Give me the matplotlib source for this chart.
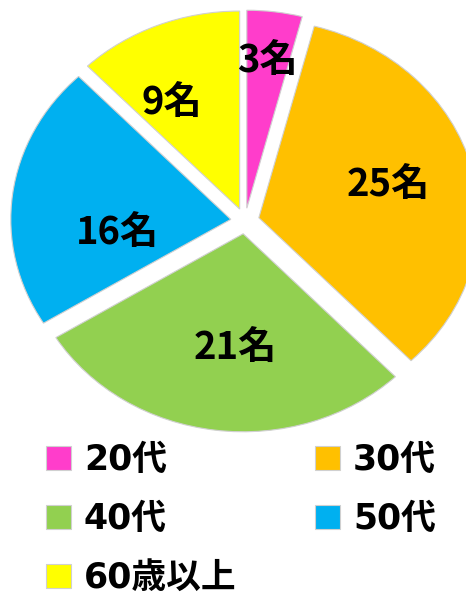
import matplotlib
matplotlib.use("Agg")
import matplotlib.pyplot as plt
import numpy as np

categories = ["20代", "30代", "40代", "50代", "60歳以上"]
values = [3, 25, 21, 16, 9]
unit = "名"
colors = ["#FF3DCB", "#FFC000", "#92D050", "#00B0F0", "#FFFF00"]

plt.rcParams['font.family'] = ['DejaVu Sans', 'Noto Sans CJK JP']

W, H = 466, 596
fig = plt.figure(figsize=(W / 100, H / 100), dpi=100)
ax = fig.add_axes([0, 0, 1, 1])

explode = 0.065
wedges, texts, autotexts = ax.pie(
    values, colors=colors, startangle=90, counterclock=False,
    explode=[explode] * len(values),
    autopct=lambda p: "", pctdistance=0.6,
    wedgeprops=dict(edgecolor="#d0d0d0", linewidth=0.8),
)
ax.set_aspect('auto')
cx, cy, rx, ry = 245, 221, 220, 198
ax.set_xlim(-cx / rx, (W - cx) / rx)
ax.set_ylim(-(H - cy) / ry, cy / ry)
ax.axis('off')

dists = [0.745, 0.61, 0.578, 0.52, 0.618]
shifts = [0, 1, 3.6, 15, 8]
for w, v, t, d, s in zip(wedges, values, autotexts, dists, shifts):
    m = np.deg2rad((w.theta1 + w.theta2) / 2 + s)
    x0, y0 = w.center
    t.set_position((x0 + d * np.cos(m), y0 + d * np.sin(m)))
    t.set_text(f"{v}{unit}")
    t.set_fontfamily(['Noto Sans CJK JP', 'DejaVu Sans'])
    t.set_fontsize(27.5)
    t.set_fontweight('bold')
    t.set_color('black')
    t.set_ha('center')
    t.set_va('center')

order = [0, 2, 4, 1, 3]
leg = fig.legend([wedges[i] for i in order], [categories[i] for i in order],
                 ncol=2, loc='upper left', bbox_to_anchor=(46 / W, 1 - 443 / H),
                 frameon=False, borderpad=0, borderaxespad=0,
                 handlelength=0.72, handleheight=0.69, handletextpad=0.37,
                 columnspacing=2.27, labelspacing=0.72,
                 prop=dict(size=25, weight='bold'))
for h in leg.legend_handles:
    h.set_edgecolor('#d0d0d0')
    h.set_linewidth(0.8)

fig.savefig("out.png", dpi=100, facecolor='white')
